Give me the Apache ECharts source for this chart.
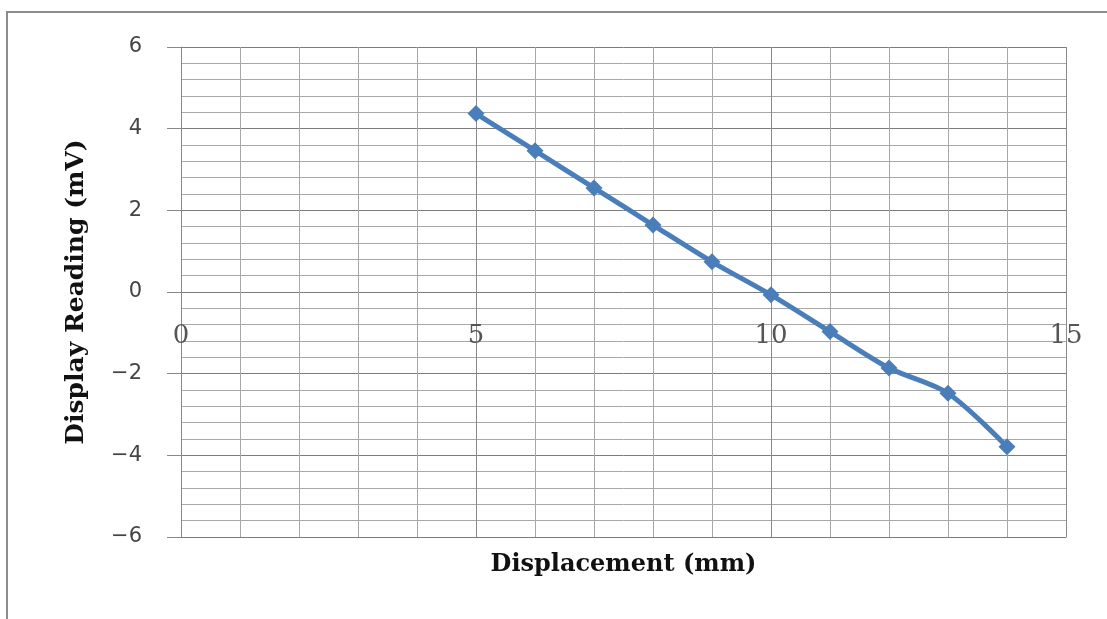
<!DOCTYPE html>
<html>
<head>
<meta charset="utf-8">
<script src="https://cdn.jsdelivr.net/npm/echarts@6/dist/echarts.min.js"></script>
<style>
  html, body { margin: 0; padding: 0; background: #fff; }
  #chart { width: 1107px; height: 619px; }
</style>
</head>
<body>
<div id="chart"></div>
<script>
var displacement = [5, 6, 7, 8, 9, 10, 11, 12, 13, 14];
var reading = [4.37, 3.46, 2.55, 1.64, 0.74, -0.07, -0.97, -1.86, -2.48, -3.79];
var xTicks = [0, 5, 10, 15];
var yTicks = [-6, -4, -2, 0, 2, 4, 6];

var points = displacement.map(function (d, i) { return [d, reading[i]]; });

var myChart = echarts.init(document.getElementById('chart'));
myChart.setOption({
    animation: false,
    graphic: [{
        type: 'rect',
        shape: { x: 7, y: 12, width: 1200, height: 700 },
        style: { fill: 'none', stroke: '#8c8c8c', lineWidth: 2 }
    }],
    grid: { left: 181, top: 47, width: 885, height: 490, containLabel: false, outerBoundsMode: 'none' },
    xAxis: {
        type: 'value',
        min: xTicks[0],
        max: xTicks[xTicks.length - 1],
        interval: 5,
        name: 'Displacement (mm)',
        nameLocation: 'middle',
        nameGap: 16,
        nameTextStyle: { fontFamily: 'DejaVu Serif', fontWeight: 'bold', fontSize: 24, color: '#111' },
        axisLine: { onZero: false, lineStyle: { color: '#7c7c7c', width: 1 } },
        axisTick: { show: false },
        // labels sit under the zero line, as in the original
        axisLabel: { margin: -214, fontFamily: 'DejaVu Serif', fontSize: 26, color: '#555' },
        splitLine: { show: true, lineStyle: { color: '#8a8a8a', width: 1 } },
        minorTick: { show: false, splitNumber: 5 },
        minorSplitLine: { show: true, lineStyle: { color: '#a8a8a8', width: 1 } }
    },
    yAxis: {
        type: 'value',
        min: yTicks[0],
        max: yTicks[yTicks.length - 1],
        interval: 2,
        name: 'Display Reading (mV)',
        nameLocation: 'middle',
        nameGap: 92,
        nameTextStyle: { fontFamily: 'DejaVu Serif', fontWeight: 'bold', fontSize: 25, color: '#111' },
        axisLine: { show: true, onZero: false, lineStyle: { color: '#888', width: 1 } },
        axisTick: { show: true, length: 14, lineStyle: { color: '#888' } },
        axisLabel: {
            margin: 39, fontFamily: 'DejaVu Sans', fontSize: 21, color: '#444',
            formatter: function (v) { return String(v).replace('-', '\u2212'); }
        },
        splitLine: { show: true, lineStyle: { color: '#7c7c7c', width: 1 } },
        minorTick: { show: false, splitNumber: 5 },
        minorSplitLine: { show: true, lineStyle: { color: '#a8a8a8', width: 1 } }
    },
    series: [{
        type: 'line',
        data: points,
        smooth: 0.3,
        symbol: 'diamond',
        symbolSize: 17,
        lineStyle: { color: '#4a7ebb', width: 5 },
        itemStyle: { color: '#4a7ebb' }
    }]
});
</script>
</body>
</html>
